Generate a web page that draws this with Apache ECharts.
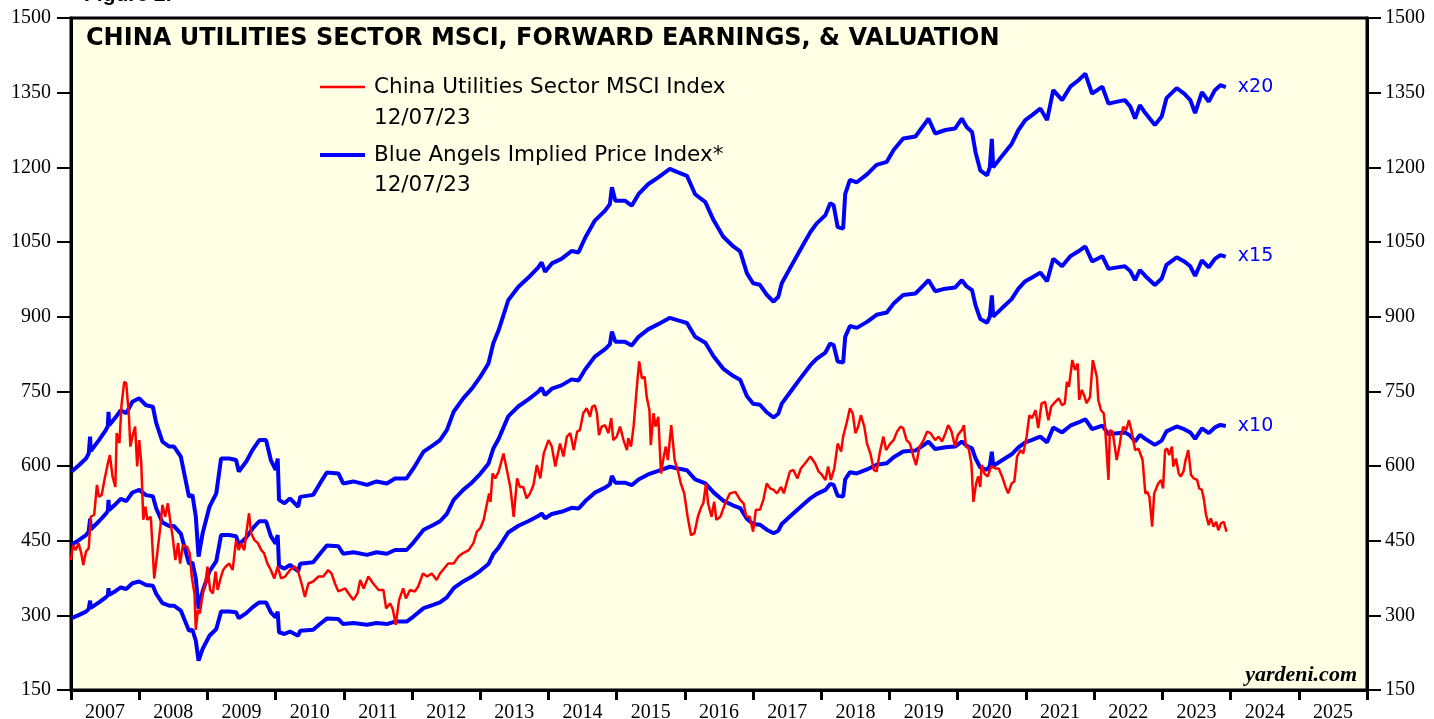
<!DOCTYPE html>
<html><head><meta charset="utf-8">
<script src="https://cdn.jsdelivr.net/npm/echarts@6/dist/echarts.min.js"></script>
<style>html,body{margin:0;padding:0;background:#fff;}#c{width:1434px;height:719px;}</style>
</head><body><div id="c"></div>
<script>
// x-axis year categories (labels centred between yearly ticks)
const yearLabels = ['2007','2008','2009','2010','2011','2012','2013','2014','2015','2016','2017','2018','2019','2020','2021','2022','2023','2024','2025'];
// y-axis range
const yMin = 150, yMax = 1500, yStep = 150;
// P/E multiples applied to forward earnings
const multiples = [10, 15, 20];

// Forward earnings (decimal year, earnings) ; implied price = earnings x multiple
const fwdEarnings = [
[2007.01,29.45],[2007.12,30.1],[2007.22,30.75],[2007.26,31.25],[2007.28,32.95],[2007.29,31.5],[2007.41,32.6],[2007.51,33.6],[2007.54,34.0],[2007.55,35.45],
[2007.56,34.1],[2007.66,34.95],[2007.73,35.6],[2007.81,35.3],[2007.90,36.45],[2008.00,36.8],[2008.10,36.1],[2008.20,35.95],[2008.25,34.3],[2008.34,32.45],
[2008.44,31.95],[2008.51,31.95],[2008.61,30.95],[2008.66,29.25],[2008.73,26.9],[2008.78,27.1],[2008.83,24.9],[2008.87,20.9],[2008.93,23.25],[2009.03,25.9],
[2009.13,27.25],[2009.20,30.75],[2009.32,30.75],[2009.42,30.6],[2009.46,29.45],[2009.57,30.45],[2009.66,31.6],[2009.76,32.6],[2009.86,32.6],[2009.93,30.6],
[2010.00,29.6],[2010.03,30.75],[2010.05,26.6],[2010.13,26.25],[2010.21,26.75],[2010.33,25.9],[2010.36,26.9],[2010.55,27.1],[2010.65,28.25],[2010.75,29.35],
[2010.92,29.25],[2010.99,28.25],[2011.14,28.45],[2011.34,28.1],[2011.48,28.45],[2011.63,28.25],[2011.75,28.75],[2011.92,28.75],[2012.02,29.75],[2012.17,31.45],
[2012.31,32.1],[2012.41,32.6],[2012.51,33.6],[2012.61,35.45],[2012.75,36.8],[2012.88,37.8],[2013.00,38.95],[2013.12,40.3],[2013.19,42.3],[2013.27,43.65],
[2013.41,46.65],[2013.56,48.0],[2013.71,48.95],[2013.85,49.95],[2013.90,50.45],[2013.95,49.5],[2014.05,50.35],[2014.19,50.8],[2014.34,51.6],[2014.44,51.45],
[2014.54,52.95],[2014.68,54.65],[2014.83,55.65],[2014.90,56.3],[2014.93,58.0],[2014.98,56.65],[2015.12,56.65],[2015.22,56.15],[2015.32,57.3],[2015.46,58.3],
[2015.61,59.0],[2015.78,59.85],[2015.90,59.5],[2016.03,59.15],[2016.15,57.3],[2016.30,56.5],[2016.42,54.7],[2016.56,53.05],[2016.71,52.05],[2016.81,51.55],
[2016.91,49.35],[2017.00,48.35],[2017.10,48.2],[2017.20,47.2],[2017.30,46.5],[2017.37,47.0],[2017.42,48.35],[2017.54,49.85],[2017.69,51.7],[2017.84,53.5],
[2017.93,54.35],[2018.06,55.2],[2018.13,56.4],[2018.18,56.2],[2018.24,54.0],[2018.32,53.85],[2018.35,57.3],[2018.42,58.75],[2018.52,58.5],[2018.67,59.3],
[2018.81,60.25],[2018.96,60.55],[2019.06,61.75],[2019.20,62.9],[2019.38,63.1],[2019.52,64.4],[2019.57,64.9],[2019.67,63.4],[2019.82,63.75],[2019.96,63.9],
[2020.06,64.9],[2020.13,64.05],[2020.21,63.55],[2020.26,61.55],[2020.33,59.7],[2020.43,59.2],[2020.47,60.0],[2020.50,62.85],[2020.52,60.0],[2020.65,61.15],
[2020.79,62.35],[2020.89,63.75],[2020.99,64.75],[2021.09,65.25],[2021.21,65.9],[2021.31,64.75],[2021.40,67.75],[2021.53,66.75],[2021.65,68.1],[2021.77,68.75],
[2021.87,69.4],[2021.97,67.4],[2022.12,68.1],[2022.21,66.4],[2022.34,66.6],[2022.45,66.75],[2022.53,66.1],[2022.60,64.9],[2022.67,66.25],[2022.75,65.45],
[2022.89,64.25],[2022.99,65.1],[2023.06,66.95],[2023.21,67.95],[2023.32,67.4],[2023.41,66.75],[2023.48,65.45],[2023.58,67.55],[2023.68,66.6],[2023.77,67.75],
[2023.85,68.25],[2023.93,68.05]
];

// China Utilities Sector MSCI Index (decimal year, value)
const msciIndex = [
[2007.00,411],[2007.03,441],[2007.07,431],[2007.11,445],[2007.15,425],[2007.18,401],[2007.22,428],[2007.26,435],[2007.29,498],[2007.34,502],
[2007.38,562],[2007.41,538],[2007.45,542],[2007.49,572],[2007.54,605],[2007.57,622],[2007.61,578],[2007.65,558],[2007.67,666],[2007.71,646],
[2007.74,722],[2007.78,769],[2007.81,766],[2007.85,699],[2007.87,639],[2007.90,659],[2007.94,679],[2007.97,599],[2008.00,652],[2008.03,605],
[2008.06,492],[2008.09,518],[2008.12,492],[2008.17,498],[2008.22,374],[2008.27,431],[2008.31,478],[2008.34,522],[2008.38,498],[2008.42,525],
[2008.46,485],[2008.49,458],[2008.53,411],[2008.57,445],[2008.60,404],[2008.64,441],[2008.70,438],[2008.74,425],[2008.77,378],[2008.81,344],
[2008.83,271],[2008.86,311],[2008.89,304],[2008.93,344],[2008.97,364],[2009.00,398],[2009.04,351],[2009.08,344],[2009.12,388],[2009.15,351],
[2009.20,378],[2009.23,391],[2009.27,398],[2009.32,404],[2009.37,391],[2009.42,451],[2009.46,431],[2009.49,445],[2009.54,431],[2009.57,465],
[2009.61,505],[2009.64,465],[2009.69,451],[2009.74,445],[2009.79,431],[2009.83,425],[2009.88,404],[2009.93,391],[2009.98,374],[2010.03,398],
[2010.08,374],[2010.14,378],[2010.21,391],[2010.28,398],[2010.33,388],[2010.38,364],[2010.43,337],[2010.48,364],[2010.55,368],[2010.63,378],
[2010.70,378],[2010.77,391],[2010.82,384],[2010.87,364],[2010.92,348],[2010.97,351],[2011.02,354],[2011.07,344],[2011.14,331],[2011.20,344],
[2011.24,371],[2011.29,354],[2011.36,378],[2011.43,364],[2011.51,351],[2011.58,351],[2011.62,314],[2011.68,324],[2011.72,311],[2011.76,281],
[2011.81,331],[2011.87,354],[2011.91,334],[2011.97,351],[2012.04,348],[2012.09,358],[2012.16,384],[2012.22,378],[2012.29,384],[2012.36,371],
[2012.41,384],[2012.47,394],[2012.53,404],[2012.61,404],[2012.68,418],[2012.75,425],[2012.83,431],[2012.90,445],[2012.95,468],[2013.00,475],
[2013.05,492],[2013.10,525],[2013.13,545],[2013.15,528],[2013.18,585],[2013.22,575],[2013.27,589],[2013.34,625],[2013.39,592],[2013.44,558],
[2013.49,498],[2013.54,575],[2013.58,558],[2013.63,558],[2013.68,535],[2013.73,545],[2013.78,562],[2013.83,602],[2013.88,575],[2013.93,625],
[2014.00,652],[2014.05,639],[2014.10,599],[2014.17,645],[2014.22,619],[2014.27,659],[2014.32,666],[2014.37,632],[2014.42,669],[2014.46,672],
[2014.51,706],[2014.56,716],[2014.61,699],[2014.64,719],[2014.68,722],[2014.71,706],[2014.74,662],[2014.78,679],[2014.83,682],[2014.88,666],
[2014.92,696],[2014.95,652],[2015.00,659],[2015.05,679],[2015.10,652],[2015.15,632],[2015.17,656],[2015.21,639],[2015.25,682],[2015.30,766],
[2015.33,810],[2015.37,776],[2015.41,779],[2015.44,739],[2015.48,712],[2015.50,642],[2015.54,706],[2015.57,679],[2015.61,699],[2015.65,585],
[2015.69,619],[2015.72,639],[2015.75,612],[2015.80,682],[2015.85,612],[2015.90,589],[2015.94,565],[2015.99,545],[2016.04,498],[2016.09,461],
[2016.14,465],[2016.19,498],[2016.24,518],[2016.27,525],[2016.31,565],[2016.34,525],[2016.39,498],[2016.43,528],[2016.46,492],[2016.52,498],
[2016.59,525],[2016.66,545],[2016.74,548],[2016.81,532],[2016.86,525],[2016.90,498],[2016.95,498],[2017.00,468],[2017.04,512],[2017.10,512],
[2017.15,532],[2017.20,565],[2017.25,555],[2017.30,552],[2017.35,545],[2017.41,558],[2017.45,545],[2017.49,565],[2017.54,589],[2017.59,592],
[2017.65,575],[2017.70,595],[2017.76,605],[2017.84,619],[2017.91,605],[2017.96,589],[2018.01,582],[2018.06,572],[2018.10,599],[2018.14,572],
[2018.19,595],[2018.24,645],[2018.29,629],[2018.32,659],[2018.37,686],[2018.42,716],[2018.46,706],[2018.50,666],[2018.54,679],[2018.58,702],
[2018.63,679],[2018.67,645],[2018.72,625],[2018.77,592],[2018.81,589],[2018.86,629],[2018.91,659],[2018.95,632],[2019.01,645],[2019.06,652],
[2019.11,669],[2019.16,679],[2019.20,676],[2019.25,652],[2019.30,645],[2019.35,619],[2019.39,602],[2019.44,639],[2019.50,652],[2019.55,669],
[2019.60,666],[2019.67,652],[2019.72,659],[2019.77,649],[2019.82,666],[2019.86,682],[2019.91,669],[2019.96,639],[2020.00,662],[2020.06,672],
[2020.09,682],[2020.12,639],[2020.16,635],[2020.20,605],[2020.23,528],[2020.27,565],[2020.30,579],[2020.33,558],[2020.35,602],[2020.39,585],
[2020.44,579],[2020.49,599],[2020.55,595],[2020.60,595],[2020.65,579],[2020.70,558],[2020.74,545],[2020.79,565],[2020.83,569],[2020.87,619],
[2020.92,632],[2020.96,625],[2021.01,659],[2021.05,702],[2021.09,696],[2021.14,712],[2021.18,676],[2021.23,726],[2021.28,729],[2021.33,692],
[2021.37,719],[2021.43,729],[2021.48,736],[2021.53,722],[2021.57,726],[2021.60,769],[2021.63,759],[2021.68,813],[2021.72,793],[2021.76,806],
[2021.78,733],[2021.82,753],[2021.86,739],[2021.89,726],[2021.94,739],[2021.98,813],[2022.00,816],[2022.04,779],[2022.06,733],[2022.10,712],
[2022.14,706],[2022.16,679],[2022.21,572],[2022.23,672],[2022.27,669],[2022.31,632],[2022.33,612],[2022.37,639],[2022.40,666],[2022.43,679],
[2022.47,672],[2022.51,692],[2022.55,669],[2022.60,632],[2022.65,635],[2022.71,612],[2022.75,545],[2022.78,548],[2022.81,538],[2022.85,478],
[2022.88,545],[2022.94,565],[2022.98,572],[2023.01,555],[2023.04,632],[2023.07,635],[2023.10,622],[2023.14,639],[2023.16,599],[2023.20,615],
[2023.24,585],[2023.27,579],[2023.31,589],[2023.34,612],[2023.38,632],[2023.42,582],[2023.46,575],[2023.51,572],[2023.54,555],[2023.58,552],
[2023.61,532],[2023.64,502],[2023.68,481],[2023.71,495],[2023.75,478],[2023.79,488],[2023.82,471],[2023.86,485],[2023.90,488],[2023.94,468]
];

const RED_NAME = 'China Utilities Sector MSCI Index';
const BLUE_NAME = 'Blue Angels Implied Price Index*';
const legendDate = '12/07/23';

const chart = echarts.init(document.getElementById('c'), null, {renderer: 'canvas'});
const serif = 'Liberation Serif';
const sans = 'DejaVu Sans';

const blueSeries = multiples.slice().reverse().map((m) => ({
  name: m === 20 ? BLUE_NAME : ('x' + m),
  type: 'line',
  xAxisIndex: 1,
  yAxisIndex: 0,
  symbol: 'none',
  silent: true,
  z: 2,
  lineStyle: {color: '#0000ff', width: 4},
  itemStyle: {color: '#0000ff'},
  data: fwdEarnings.map(([t, e]) => [t, +(e * m).toFixed(2)]),
  endLabel: {show: true, formatter: 'x' + m, color: '#0000ff', fontFamily: sans, fontSize: 19, distance: 12}
}));

const plainNum = v => String(v);

const option = {
  animation: false,
  backgroundColor: '#ffffff',
  title: {
    text: 'CHINA UTILITIES SECTOR MSCI, FORWARD EARNINGS, & VALUATION',
    left: 86, top: 27, padding: 0,
    textStyle: {fontFamily: sans, fontWeight: 'bold', fontSize: 24, color: '#000'}
  },
  legend: {
    orient: 'vertical', left: 315, top: 71,
    itemWidth: 45, itemHeight: 14, itemGap: 46,
    textStyle: {fontFamily: sans, fontSize: 21.5, color: '#000', padding: [0, 0, 0, 4]},
    data: [
      {name: RED_NAME, icon: 'path://M0 0H45V2.5H0Z'},
      {name: BLUE_NAME, icon: 'path://M0 0H45V4H0Z'}
    ],
    selectedMode: false
  },
  grid: {left: 71, right: 67, top: 18, bottom: 29, outerBoundsMode: 'none', show: true, backgroundColor: '#FFFFE6', borderColor: '#000', borderWidth: 3},
  xAxis: [
    {
      type: 'category', data: yearLabels, boundaryGap: true, position: 'bottom',
      axisLine: {show: true, lineStyle: {color: '#000', width: 3}},
      axisTick: {show: true, interval: 0, length: 10, lineStyle: {color: '#000', width: 3}},
      axisLabel: {interval: 0, margin: 13, fontFamily: serif, fontSize: 20, color: '#000'},
      splitLine: {show: false}
    },
    {type: 'value', min: 2007, max: 2026, show: false, splitLine: {show: false}}
  ],
  yAxis: [
    {
      type: 'value', min: yMin, max: yMax, interval: yStep, position: 'left',
      axisLine: {show: true, lineStyle: {color: '#000', width: 3}},
      axisTick: {show: true, length: 14, lineStyle: {color: '#000', width: 2}},
      axisLabel: {margin: 20, fontFamily: serif, fontSize: 20, color: '#000', formatter: plainNum},
      splitLine: {show: false}
    },
    {
      type: 'value', min: yMin, max: yMax, interval: yStep, position: 'right',
      axisLine: {show: true, lineStyle: {color: '#000', width: 3}},
      axisTick: {show: true, length: 14, lineStyle: {color: '#000', width: 2}},
      axisLabel: {margin: 18, fontFamily: serif, fontSize: 20, color: '#000', formatter: plainNum},
      splitLine: {show: false}
    }
  ],
  graphic: [
    {type: 'text', left: 84, top: -15, style: {text: 'Figure 2.', font: 'bold 21px "Liberation Sans"', fill: '#000'}},
    {type: 'text', left: 374, top: 107, style: {text: legendDate, font: '21.5px "DejaVu Sans"', fill: '#000'}},
    {type: 'text', left: 374, top: 174, style: {text: legendDate, font: '21.5px "DejaVu Sans"', fill: '#000'}},
    {type: 'text', right: 77, top: 664, style: {text: 'yardeni.com', font: 'italic bold 22px "Liberation Serif"', fill: '#000'}}
  ],
  series: [
    ...blueSeries,
    {
      name: RED_NAME, type: 'line', xAxisIndex: 1, yAxisIndex: 0, symbol: 'none', silent: true, z: 3,
      lineStyle: {color: '#ff0000', width: 2.5}, itemStyle: {color: '#ff0000'},
      data: msciIndex
    }
  ]
};
chart.setOption(option);
</script>
</body></html>
